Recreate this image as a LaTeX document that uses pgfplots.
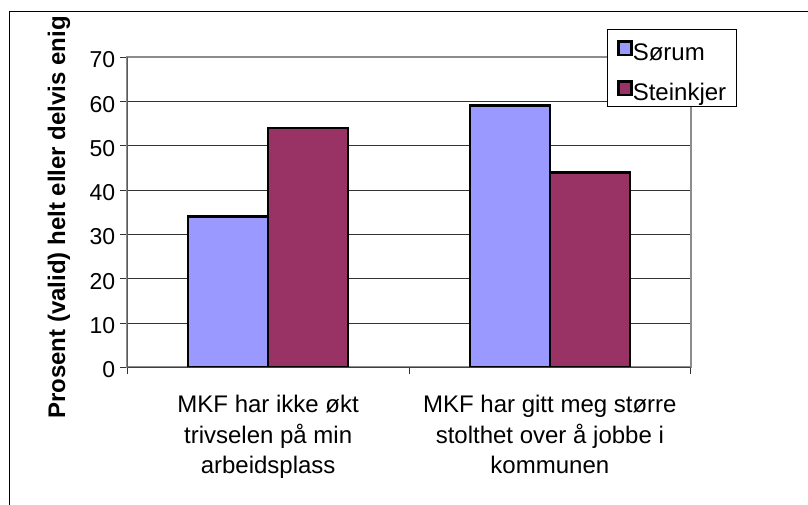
\documentclass[border=0pt]{standalone}
\usepackage{fontspec}
\setmainfont{Liberation Sans}
\usepackage{pgfplots}
\pgfplotsset{compat=1.18}
\definecolor{sorum}{HTML}{9999FF}
\definecolor{steinkjer}{HTML}{993366}
\begin{document}
\begin{tikzpicture}
\useasboundingbox (0pt,0pt) rectangle (808pt,-505pt);
\draw[black, line width=1pt] (9pt,-505pt) -- (9pt,-12pt) -- (808pt,-12pt);
\begin{axis}[
  at={(127.3pt,-367.3pt)}, anchor=south west,
  scale only axis, width=563.4pt, height=310pt,
  xmin=-0.5, xmax=1.5, ymin=0, ymax=70,
  ybar=0pt, bar width=80pt,
  ytick={0,10,...,70},
  ymajorgrids, major grid style={draw=black!80, line width=0.9pt},
  xtick={-0.5,0.5,1.5}, xticklabels={},
  extra x ticks={0,1},
  extra x tick labels={{MKF har ikke økt\\trivselen på min\\arbeidsplass},{MKF har gitt meg større\\stolthet over å jobbe i\\kommunen}},
  extra x tick style={major tick length=0pt},
  tick align=outside, major tick length=7pt,
  xtick pos=bottom, ytick pos=left,
  tick style={draw=black!80, line width=1pt},
  axis line style={draw=gray!90, line width=2pt},
  /pgf/number format/assume math mode=true,
  yticklabel style={font=\fontsize{23}{23}\selectfont, anchor=east, inner sep=0pt, yshift=-2.5pt, xshift=-5pt},
  xticklabel style={font=\fontsize{24}{30.5}\selectfont, align=center, anchor=north, inner sep=0pt, yshift=-28pt},
  legend style={at={(0.8509,1.0913)}, anchor=north west, draw=black, line width=0.8pt, fill=white,
    inner xsep=10pt, inner ysep=0pt, row sep=3.3pt,
    font=\fontsize{24}{24}\selectfont,
    nodes={inner sep=0pt, text height=31pt, text depth=5.7pt},
    /tikz/every even column/.append style={column sep=5.3pt}},
  legend cell align=left,
  legend image code/.code={\draw[#1, line width=2.5pt] (0pt,-7.25pt) rectangle (13.2pt,6.25pt);},
]
\addplot[fill=sorum, draw=black, line width=2.5pt] coordinates {(0,34.1) (1,59.1)};
\addplot[fill=steinkjer, draw=black, line width=2.5pt] coordinates {(0,54.0) (1,44.0)};
\draw[black!75, line width=1.6pt] (rel axis cs:0,1) -- (rel axis cs:0,0) -- (rel axis cs:1,0);
\legend{Sørum, Steinkjer}
\end{axis}
\node[rotate=90, anchor=base, font=\bfseries\fontsize{24}{24}\selectfont] at (65pt,-217.5pt) {Prosent (valid) helt eller delvis enig};
\end{tikzpicture}
\end{document}
